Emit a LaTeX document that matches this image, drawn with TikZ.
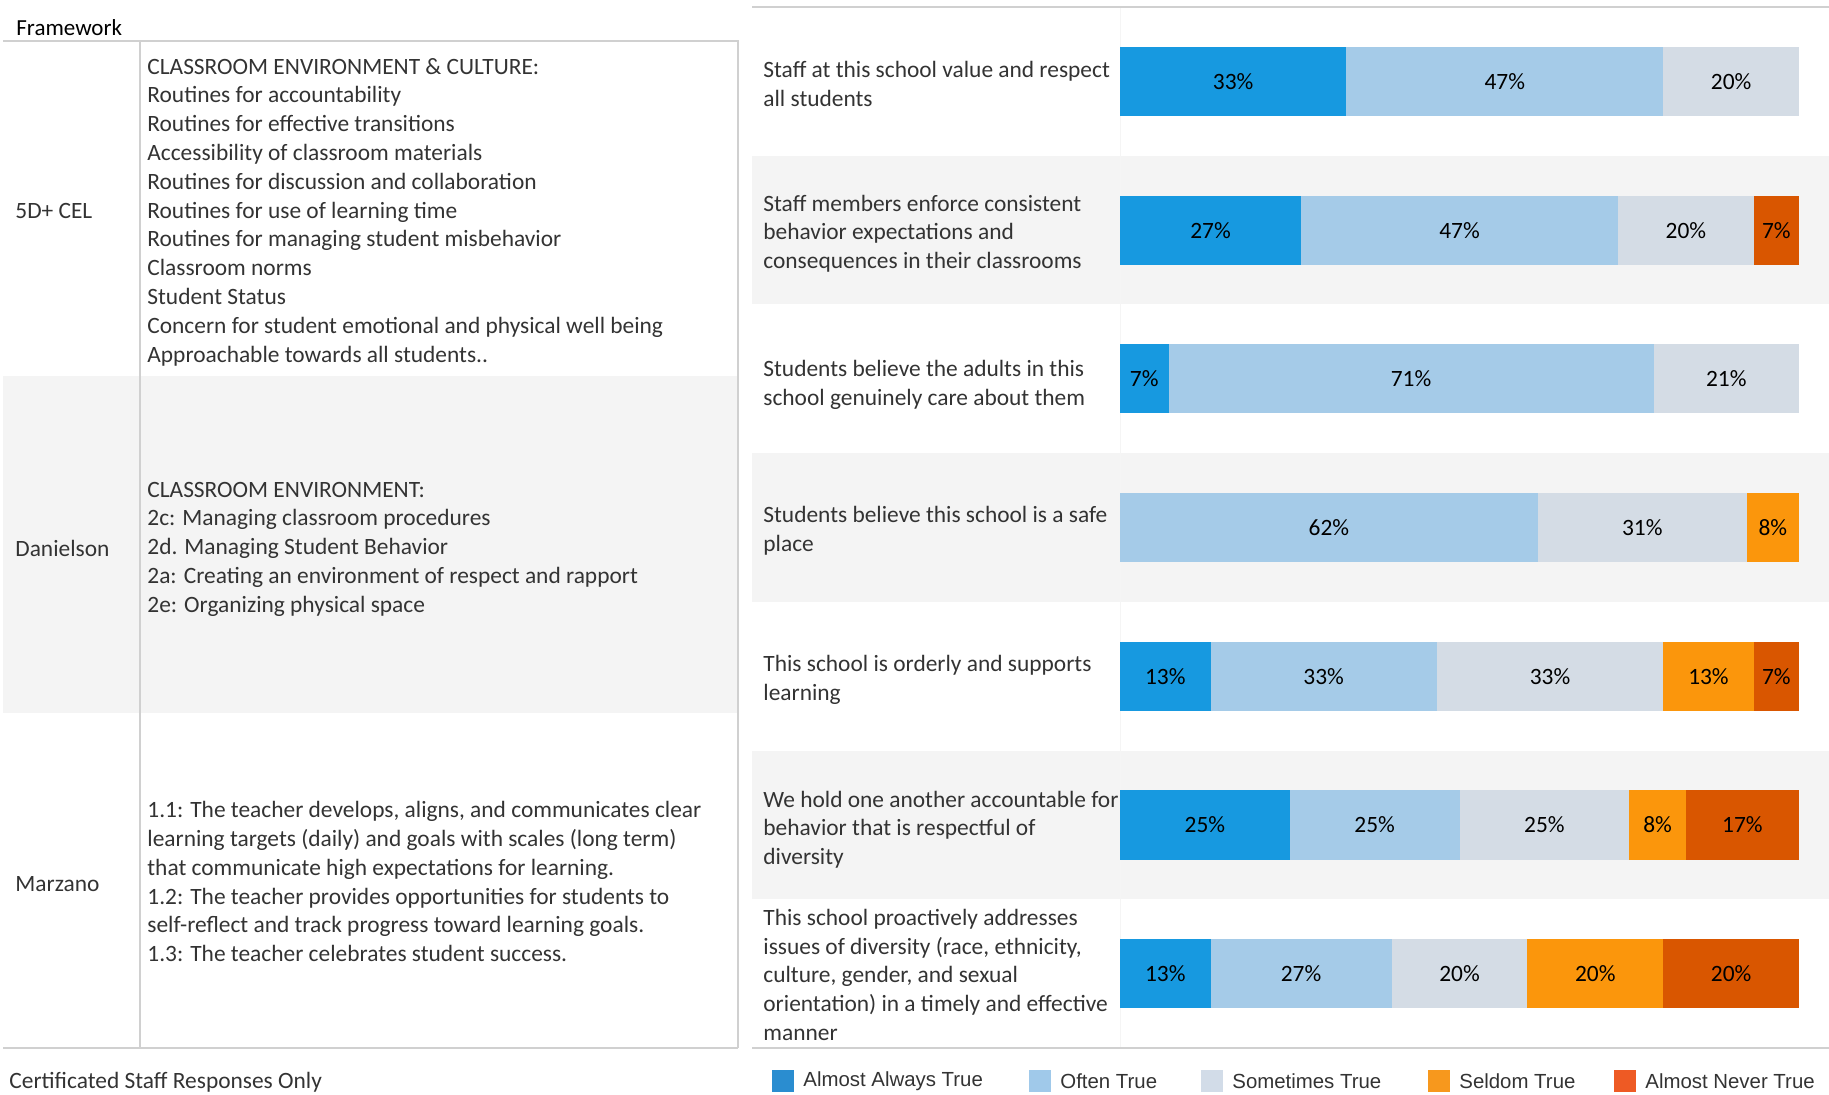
\documentclass[tikz,border=0pt]{standalone}
\usepackage{fontspec}
\setmainfont{Carlito}
\newfontfamily\legendfont{Liberation Sans}
\usetikzlibrary{positioning}

\definecolor{alwaysc}{RGB}{23,153,224}
\definecolor{oftenc}{RGB}{165,203,232}
\definecolor{somec}{RGB}{212,220,229}
\definecolor{seldomc}{RGB}{251,150,12}
\definecolor{neverc}{RGB}{217,86,0}
\definecolor{lgalways}{RGB}{42,141,208}
\definecolor{lgoften}{RGB}{160,201,234}
\definecolor{lgsome}{RGB}{210,220,232}
\definecolor{lgseldom}{RGB}{247,152,29}
\definecolor{lgnever}{RGB}{238,90,36}
\definecolor{rowgray}{RGB}{244,244,244}
\definecolor{gridgray}{RGB}{208,208,208}
\definecolor{textgray}{RGB}{51,51,51}

\tikzset{
    body/.style={font=\fontsize{11.7}{14.4}\selectfont, text=textgray, anchor=west, align=left, inner sep=0pt},
    pct/.style={font=\fontsize{11.7}{14.4}\selectfont, text=black},
    legendtext/.style={font=\legendfont\fontsize{10.2}{12}\selectfont, text=textgray, anchor=west, inner sep=0pt},
    gridline/.style={draw=gridgray, line width=0.75pt},
}

\begin{document}
\begin{tikzpicture}[x=0.5pt,y=-0.5pt]
    \useasboundingbox (0,0) rectangle (1829,1095);

    % Framework table
    \fill [rowgray] (3,376) rectangle (738,713);
    \node [body, anchor=base west, text=black, font=\fontsize{11.5}{14}\selectfont] (head) at (16,36) {Framework};

    \node [body] (cel) at (15,210.8) {5D+ CEL};
    \node [body] (celtext) at (147,212) {CLASSROOM ENVIRONMENT \& CULTURE:\\
        Routines for accountability\\
        Routines for effective transitions\\
        Accessibility of classroom materials\\
        Routines for discussion and collaboration\\
        Routines for use of learning time\\
        Routines for managing student misbehavior\\
        Classroom norms\\
        Student Status\\
        Concern for student emotional and physical well being\\
        Approachable towards all students..};

    \node [body] (dan) at (15,548) {Danielson};
    \node [body] (dantext) at (147,549.2) {CLASSROOM ENVIRONMENT:\\
        2c: Managing classroom procedures\\
        2d. Managing Student Behavior\\
        2a: Creating an environment of respect and rapport\\
        2e: Organizing physical space};

    \node [body] (mar) at (15,884) {Marzano};
    \node [body] (martext) at (147,881.7) {1.1: The teacher develops, aligns, and communicates clear\\
        learning targets (daily) and goals with scales (long term)\\
        that communicate high expectations for learning.\\
        1.2: The teacher provides opportunities for students to\\
        self-reflect and track progress toward learning goals.\\
        1.3: The teacher celebrates student success.};

    \draw [gridline] (3,41) -- (738,41) -- (738,1048);
    \draw [gridline] (140,41) -- (140,1048);
    \draw [gridline, line width=1pt] (3,1048) -- (738,1048);

    \node [body, anchor=base west] (note) at (9,1088) {Certificated Staff Responses Only};

    % Survey bands
    \foreach \i in {2,4,6}
        \fill [rowgray] (752,{7+(\i-1)*148.71}) rectangle (1829,{7+\i*148.71});
    \draw [draw=rowgray!60!gridgray!40, line width=0.5pt] (1120,7) -- (1120,1048);
    \draw [gridline, line width=1pt] (752,7) -- (1829,7);
    \draw [gridline, line width=1pt] (752,1048) -- (1829,1048);

    \node [body] (q1) at (763,83.7) {Staff at this school value and respect\\all students};
    \node [body] (q2) at (763,233.6) {Staff members enforce consistent\\behavior expectations and\\consequences in their classrooms};
    \node [body] (q3) at (763,384.6) {Students believe the adults in this\\school genuinely care about them};
    \node [body] (q4) at (763,531) {Students believe this school is a safe\\place};
    \node [body] (q5) at (763,679.7) {This school is orderly and supports\\learning};
    \node [body] (q6) at (763,829.7) {We hold one another accountable for\\behavior that is respectful of\\diversity};
    \node [body] (q7) at (763,974.9) {This school proactively addresses\\issues of diversity (race, ethnicity,\\culture, gender, and sexual\\orientation) in a timely and effective\\manner};

    % Bars
    \foreach \lo/\hi/\col/\val in {0/5/alwaysc/33, 5/12/oftenc/47, 12/15/somec/20}
        \fill [\col] ({1120+679*\lo/15},47) rectangle ({1120+679*\hi/15},116) node[pct, pos=.5] (bar1-\lo) {\val\%};

    \foreach \lo/\hi/\col/\val in {0/4/alwaysc/27, 4/11/oftenc/47, 11/14/somec/20, 14/15/neverc/7}
        \fill [\col] ({1120+679*\lo/15},196) rectangle ({1120+679*\hi/15},265) node[pct, pos=.5] (bar2-\lo) {\val\%};

    \foreach \lo/\hi/\col/\val in {0/1/alwaysc/7, 1/11/oftenc/71, 11/14/somec/21}
        \fill [\col] ({1120+679*\lo/14},344) rectangle ({1120+679*\hi/14},413) node[pct, pos=.5] (bar3-\lo) {\val\%};

    \foreach \lo/\hi/\col/\val in {0/8/oftenc/62, 8/12/somec/31, 12/13/seldomc/8}
        \fill [\col] ({1120+679*\lo/13},493) rectangle ({1120+679*\hi/13},562) node[pct, pos=.5] (bar4-\lo) {\val\%};

    \foreach \lo/\hi/\col/\val in {0/2/alwaysc/13, 2/7/oftenc/33, 7/12/somec/33, 12/14/seldomc/13, 14/15/neverc/7}
        \fill [\col] ({1120+679*\lo/15},642) rectangle ({1120+679*\hi/15},711) node[pct, pos=.5] (bar5-\lo) {\val\%};

    \foreach \lo/\hi/\col/\val in {0/3/alwaysc/25, 3/6/oftenc/25, 6/9/somec/25, 9/10/seldomc/8, 10/12/neverc/17}
        \fill [\col] ({1120+679*\lo/12},790) rectangle ({1120+679*\hi/12},860) node[pct, pos=.5] (bar6-\lo) {\val\%};

    \foreach \lo/\hi/\col/\val in {0/2/alwaysc/13, 2/6/oftenc/27, 6/9/somec/20, 9/12/seldomc/20, 12/15/neverc/20}
        \fill [\col] ({1120+679*\lo/15},939) rectangle ({1120+679*\hi/15},1008) node[pct, pos=.5] (bar7-\lo) {\val\%};

    % Legend
    \foreach \x/\col/\name/\lbl in {772/lgalways/always/Almost Always True, 1029/lgoften/often/Often True, 1201/lgsome/some/Sometimes True, 1428/lgseldom/seldom/Seldom True, 1614/lgnever/never/Almost Never True}
    {
        \fill [\col] (\x,1070) rectangle ({\x+22},1092);
        \node [legendtext] (key-\name) at ({\x+31},1081) {\lbl};
    }
\end{tikzpicture}
\end{document}
